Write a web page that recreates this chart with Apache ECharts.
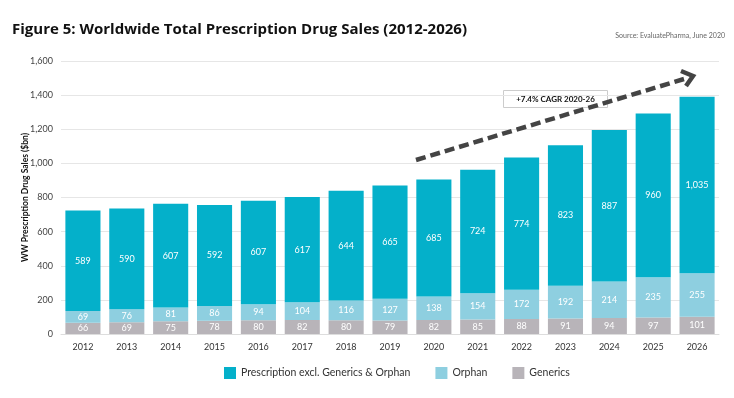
<!DOCTYPE html>
<html>
<head>
<meta charset="utf-8">
<script src="https://cdn.jsdelivr.net/npm/echarts@6/dist/echarts.min.js"></script>
<style>
  html, body { margin: 0; padding: 0; background: #fff; }
  #chart { width: 734px; height: 398px; }
</style>
</head>
<body>
<div id="chart"></div>
<script>
// data ($bn)
var years = ['2012','2013','2014','2015','2016','2017','2018','2019','2020','2021','2022','2023','2024','2025','2026'];
var generics = [66, 69, 75, 78, 80, 82, 80, 79, 82, 85, 88, 91, 94, 97, 101];
var orphan = [69, 76, 81, 86, 94, 104, 116, 127, 138, 154, 172, 192, 214, 235, 255];
var prescription = [589, 590, 607, 592, 607, 617, 644, 665, 685, 724, 774, 823, 887, 960, 1035];
var yTicks = [0, 200, 400, 600, 800, 1000, 1200, 1400, 1600];

var font = 'Lato, "Open Sans", sans-serif';

function fmt(v) {
  return v.toLocaleString('en-US');
}

function barSeries(name, data, color) {
  return {
    name: name,
    type: 'bar',
    stack: 'total',
    barWidth: '80%',
    data: data,
    itemStyle: { color: color },
    label: {
      show: true,
      position: 'inside',
      color: '#fff',
      fontSize: 9,
      fontFamily: font,
      formatter: function (p) { return fmt(p.value); }
    }
  };
}

var chart = echarts.init(document.getElementById('chart'));
chart.setOption({
  animation: false,
  title: [{
    text: 'Figure 5: Worldwide Total Prescription Drug Sales (2012-2026)',
    left: 7, top: 17,
    textStyle: { fontSize: 15, fontWeight: 'bold', color: '#111', fontFamily: '"Open Sans", sans-serif' }
  }, {
    text: 'Source: EvaluatePharma, June 2020',
    right: 4, top: 27,
    textStyle: { fontSize: 7, fontWeight: 'normal', color: '#666', fontFamily: font }
  }],
  grid: { left: 61, right: 15, top: 61, bottom: 64 },
  legend: {
    bottom: 14,
    left: 219,
    itemWidth: 12, itemHeight: 12,
    itemGap: 25,
    icon: 'rect',
    textStyle: { fontSize: 10.5, color: '#333', fontFamily: font },
    data: ['Prescription excl. Generics & Orphan', 'Orphan', 'Generics']
  },
  xAxis: {
    type: 'category',
    data: years,
    axisLine: { lineStyle: { color: '#ddd' } },
    axisTick: { show: false },
    axisLabel: { color: '#333', fontSize: 9, fontFamily: font, margin: 9 }
  },
  yAxis: {
    type: 'value',
    min: yTicks[0], max: yTicks[yTicks.length - 1], interval: 200,
    name: 'WW Prescription Drug Sales ($bn)',
    nameLocation: 'middle',
    nameGap: 31,
    nameMoveOverlap: false,
    nameTextStyle: { fontSize: 8.5, fontWeight: 'bold', color: '#111', fontFamily: font },
    axisLine: { show: false },
    axisTick: { show: false },
    axisLabel: { color: '#444', fontSize: 9, fontFamily: font, formatter: function (v) { return fmt(v); } },
    splitLine: { lineStyle: { color: '#e6e6e6' } }
  },
  series: [
    barSeries('Generics', generics, '#b8b4b9'),
    barSeries('Orphan', orphan, '#8ecfe0'),
    barSeries('Prescription excl. Generics & Orphan', prescription, '#04b0ca')
  ],
  graphic: [{
    type: 'line',
    shape: { x1: 416, y1: 160, x2: 684, y2: 79 },
    style: { stroke: '#444', lineWidth: 4.5, lineDash: [10, 5] },
    z: 100
  }, {
    type: 'polyline',
    shape: { points: [[681, 71], [693, 76], [686, 86]] },
    style: { stroke: '#444', lineWidth: 4.5, fill: null },
    z: 100
  }, {
    type: 'group',
    left: 503, top: 90,
    z: 110,
    children: [{
      type: 'rect',
      shape: { x: 0, y: 0, width: 104, height: 17 },
      style: { fill: '#fff', stroke: '#ccc', lineWidth: 1 }
    }, {
      type: 'text',
      x: 52, y: 9,
      style: {
        text: '+7.4% CAGR 2020-26',
        fill: '#111', fontSize: 8, fontWeight: 'bold', fontFamily: font,
        align: 'center', verticalAlign: 'middle'
      }
    }]
  }]
});
</script>
</body>
</html>
